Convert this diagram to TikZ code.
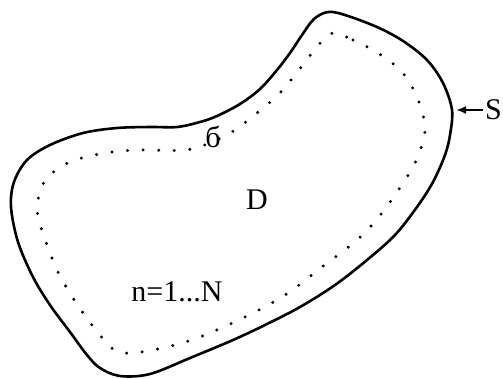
\documentclass[tikz,border=0pt]{standalone}
\usepackage{fontspec}
\setmainfont{Liberation Serif}
\usetikzlibrary{arrows.meta}
\begin{document}
\begin{tikzpicture}[x=1pt,y=-1pt,
  outer/.style={line width=2.6pt, line join=round},
  inner/.style={line width=3.3pt, line cap=round, dash pattern=on 0pt off 15.6pt},
  lbl/.style={font=\fontsize{30}{36}\selectfont, inner sep=0pt},
  pointer/.style={-{Latex[length=10pt,width=8pt]}, line width=2pt}]
\useasboundingbox (0,0) rectangle (503,378);
\draw[outer] plot[smooth cycle, tension=0.55] coordinates {
 (328,12) (345,15) (377,27) (403,41) (427,60) (443,83) (452,110) (450,135)
 (445,155) (433,182) (417,207) (395,235) (367,260) (335,285) (300,307)
 (265,325) (233,340) (190,358) (150,374) (120,376) (100,368) (87,355)
 (70,332) (50,305) (33,277) (18,242) (11,207) (14,182) (27,160) (50,145)
 (83,133) (117,128) (150,127) (177,127) (200,122) (217,116) (240,104)
 (260,89) (277,70) (290,53) (302,35) (314,19)};
\draw[inner] plot[smooth cycle, tension=0.55] coordinates {
 (335,33) (353,40) (378,53) (402,72) (417,97) (425,125) (422,145) (413,167)
 (397,192) (378,218) (357,240) (322,267) (285,295) (245,317) (200,337)
 (167,347) (132,353) (113,349) (92,325) (73,298) (58,272) (47,245) (38,217)
 (38,200) (44,182) (56,170) (75,160) (105,153) (137,150) (185,150) (212,142)
 (235,130) (257,113) (278,95) (295,75) (312,53) (325,38)};
\node[lbl] (sigma) at (213,137) {б};
\node[lbl] (D) at (257,200) {D};
\node[lbl] (n) at (177,292) {n=1...N};
\node[lbl, anchor=east] (S) at (502,110) {S};
\coordinate (Sc) at (456,110);
\draw[pointer] (S.west) ++(-2,0) -- (Sc);
\end{tikzpicture}
\end{document}
